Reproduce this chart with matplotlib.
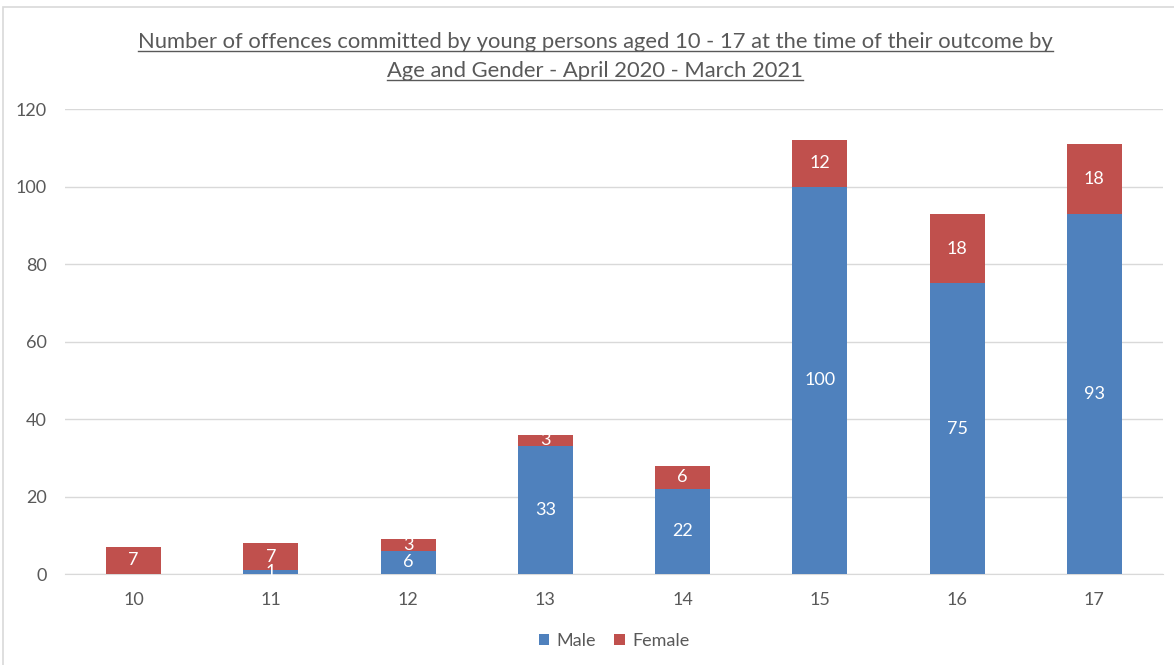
import matplotlib.pyplot as plt
from matplotlib.patches import Rectangle

# Data
ages = ['10', '11', '12', '13', '14', '15', '16', '17']
male = [0, 1, 6, 33, 22, 100, 75, 93]
female = [7, 7, 3, 3, 6, 12, 18, 18]

blue = '#4F81BD'
red = '#C0504D'
grey_text = '#595959'

plt.rcParams['font.family'] = ['Lato', 'DejaVu Sans']

fig = plt.figure(figsize=(11.74, 6.65), dpi=100)
ax = fig.add_axes([0.0554, 0.1368, 0.9352, 0.6992])

x = range(len(ages))
bars_m = ax.bar(x, male, width=0.4, color=blue, zorder=3)
bars_f = ax.bar(x, female, width=0.4, bottom=male, color=red, zorder=3)

# White data labels in the middle of each segment (skip zeros)
for i in x:
    if male[i] > 0:
        ax.text(i, male[i] / 2, str(male[i]), ha='center', va='center',
                color='white', fontsize=13, zorder=4)
    ax.text(i, male[i] + female[i] / 2, str(female[i]), ha='center', va='center',
            color='white', fontsize=13, zorder=4)

ax.set_xlim(-0.5, len(ages) - 0.5)
ax.set_ylim(0, 120)
ax.set_yticks(range(0, 121, 20))
ax.set_xticks(list(x))
ax.set_xticklabels(ages)
ax.tick_params(axis='both', length=0, labelsize=13, colors=grey_text)
ax.tick_params(axis='x', pad=13)
ax.tick_params(axis='y', pad=13)
ax.grid(axis='y', color='#D9D9D9', linewidth=1, zorder=0)
for side in ['top', 'right', 'left']:
    ax.spines[side].set_visible(False)
ax.spines['bottom'].set_color('#D9D9D9')
ax.spines['bottom'].set_zorder(2)

# Title, two lines, underlined
title_lines = ['Number of offences committed by young persons aged 10 - 17 at the time of their outcome by',
               'Age and Gender - April 2020 - March 2021']
title_y = [1 - 42 / 665, 1 - 71 / 665]
titles = []
for line, ty in zip(title_lines, title_y):
    t = fig.text(0.507, ty, line, ha='center', va='center', fontsize=15.8, color=grey_text)
    titles.append(t)

fig.canvas.draw()
renderer = fig.canvas.get_renderer()
for t in titles:
    bb = t.get_window_extent(renderer).transformed(fig.transFigure.inverted())
    fig.add_artist(plt.Line2D([bb.x0, bb.x1], [bb.y0 + 0.002, bb.y0 + 0.002],
                              transform=fig.transFigure, color=grey_text, linewidth=1))

# Legend at bottom
ax.legend([bars_m, bars_f], ['Male', 'Female'], loc='center', ncol=2,
          bbox_to_anchor=(0.5, (1 - 641 / 665 - 0.1368) / 0.6992),
          bbox_transform=ax.transAxes, frameon=False, fontsize=13,
          handlelength=0.6, handleheight=0.6, handletextpad=0.4, columnspacing=1.0,
          labelcolor=grey_text)

# Chart border
fig.add_artist(Rectangle((3 / 1174, -0.01), 1.02, 1 - 7 / 665 + 0.01, transform=fig.transFigure,
                         fill=False, edgecolor='#D9D9D9', linewidth=1.2))

fig.savefig('out.png', dpi=100)
